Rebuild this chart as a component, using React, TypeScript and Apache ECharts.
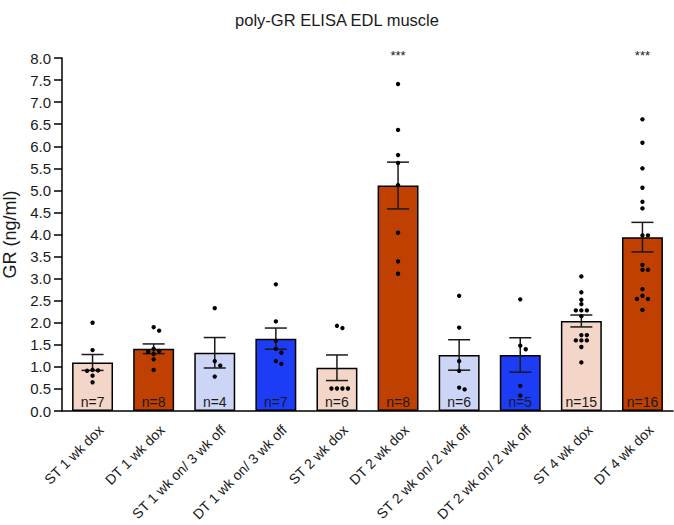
import React, { useEffect, useRef } from "react";
import * as echarts from "echarts";

const categories = [
  "ST 1 wk dox",
  "DT 1 wk dox",
  "ST 1 wk on/ 3 wk off",
  "DT 1 wk on/ 3 wk off",
  "ST 2 wk dox",
  "DT 2 wk dox",
  "ST 2 wk on/ 2 wk off",
  "DT 2 wk on/ 2 wk off",
  "ST 4 wk dox",
  "DT 4 wk dox",
];
const means = [1.1, 1.41, 1.32, 1.64, 0.98, 5.11, 1.27, 1.27, 2.04, 3.94];
const sems = [0.18, 0.11, 0.345, 0.24, 0.29, 0.53, 0.345, 0.39, 0.135, 0.335];
const counts = [7, 8, 4, 7, 6, 8, 6, 5, 15, 16];
const significance = ["", "", "", "", "", "***", "", "", "", "***"];
const starLevel = 8.06;

const pts0 = [2.0, 1.38, 0.93, 0.92, 0.91, 0.8, 0.65];
const pts1 = [1.9, 1.82, 1.41, 1.36, 1.34, 1.29, 1.17, 0.93];
const pts2 = [2.33, 1.13, 1.03, 0.78];
const pts3 = [2.87, 2.03, 1.59, 1.41, 1.32, 1.13, 1.07];
const pts4 = [1.93, 1.88, 0.51, 0.51, 0.51, 0.51];
const pts5 = [7.41, 6.37, 5.8, 5.62, 5.12, 4.04, 3.39, 3.11];
const pts6 = [2.61, 1.89, 1.13, 0.91, 0.53, 0.49];
const pts7 = [2.53, 1.48, 1.4, 0.57, 0.35];
const pts8 = [3.05, 2.69, 2.52, 2.42, 2.28, 2.28, 2.28, 2.15, 1.72, 1.72, 1.6, 1.6, 1.6, 1.45, 1.1];
const pts9 = [6.61, 6.08, 5.5, 5.06, 4.74, 4.59, 3.98, 3.98, 3.31, 3.2, 3.2, 2.76, 2.61, 2.54, 2.54, 2.29];
const points = [pts0, pts1, pts2, pts3, pts4, pts5, pts6, pts7, pts8, pts9];

const PINK = "#f3d6c8";
const ORANGE = "#bf4000";
const LAVENDER = "#cdd5f7";
const BLUE = "#1c3cf6";
const barColors = [PINK, ORANGE, LAVENDER, BLUE, PINK, ORANGE, LAVENDER, BLUE, PINK, ORANGE];

const FONT = "'Liberation Sans', Arial, Helvetica, sans-serif";
const STEP = 5.5;

function swarm(vals: number[]): number[] {
  const placed: { v: number; o: number }[] = [];
  const cands = [0, 1, -1, 2, -2, 3, -3, 4, -4];
  return vals.map((v) => {
    let chosen = 0;
    for (const o of cands) {
      const clash = placed.some((p) => Math.abs(p.v - v) < 0.1 && Math.abs(p.o - o) < 0.9);
      if (!clash) {
        chosen = o;
        break;
      }
    }
    placed.push({ v, o: chosen });
    return chosen;
  });
}

export default function App() {
  const ref = useRef<HTMLDivElement>(null);
  useEffect(() => {
    if (!ref.current) return;
    const chart = echarts.init(ref.current, undefined, { renderer: "svg" });

    const pointData: number[][] = [];
    points.forEach((arr, i) => {
      const offs = swarm(arr);
      arr.forEach((v, k) => pointData.push([i, v, offs[k]]));
    });
    const errData = means.map((m, i) => [i, m - sems[i], m + sems[i]]);
    const starData = significance
      .map((s, i) => (s ? [i, starLevel, s] : null))
      .filter((d) => d !== null) as any[];

    chart.setOption({
      animation: false,
      title: {
        text: "poly-GR ELISA EDL muscle",
        left: "center",
        top: 6,
        textStyle: { fontFamily: FONT, fontSize: 16.5, fontWeight: "normal", color: "#1a1a1a" },
      },
      grid: { left: 62, right: 1, top: 58, bottom: 114, containLabel: false, outerBoundsMode: "none" },
      xAxis: {
        type: "category",
        data: categories,
        boundaryGap: true,
        axisLine: { lineStyle: { color: "#000", width: 1.5 } },
        axisTick: { alignWithLabel: true, length: 8, lineStyle: { color: "#000", width: 1.5 } },
        axisLabel: {
          rotate: 45,
          interval: 0,
          fontSize: 14,
          fontFamily: FONT,
          color: "#1a1a1a",
          margin: 8,
          verticalAlign: "top",
          padding: [5, 0, 0, 0],
        },
      },
      yAxis: {
        type: "value",
        min: 0,
        max: 8,
        interval: 0.5,
        name: "GR (ng/ml)",
        nameLocation: "middle",
        nameGap: 40,
        nameTextStyle: { fontSize: 18, fontFamily: FONT, color: "#1a1a1a" },
        axisLine: { show: true, lineStyle: { color: "#000", width: 1.5 } },
        axisTick: { show: true, length: 8, lineStyle: { color: "#000", width: 1.5 } },
        splitLine: { show: false },
        axisLabel: {
          fontSize: 15,
          fontFamily: FONT,
          color: "#1a1a1a",
          margin: 11,
          formatter: (v: number) => v.toFixed(1),
        },
      },
      series: [
        {
          type: "bar",
          barWidth: "67%",
          z: 2,
          data: means.map((m, i) => ({
            value: m,
            itemStyle: { color: barColors[i], borderColor: "#000", borderWidth: 1.5 },
          })),
          label: {
            show: true,
            position: "insideBottom",
            distance: 2,
            fontSize: 14,
            fontFamily: FONT,
            color: "#1a1a1a",
            formatter: (p: any) => "n=" + counts[p.dataIndex],
          },
        },
        {
          type: "custom",
          z: 3,
          data: errData,
          encode: { x: 0, y: [1, 2] },
          renderItem: (params: any, api: any) => {
            const i = api.value(0);
            const lo = api.coord([i, api.value(1)]);
            const hi = api.coord([i, api.value(2)]);
            const hw = 11;
            const style = { stroke: "#1a1a1a", lineWidth: 1.5 };
            return {
              type: "group",
              children: [
                { type: "line", shape: { x1: lo[0], y1: lo[1], x2: hi[0], y2: hi[1] }, style },
                { type: "line", shape: { x1: lo[0] - hw, y1: lo[1], x2: lo[0] + hw, y2: lo[1] }, style },
                { type: "line", shape: { x1: hi[0] - hw, y1: hi[1], x2: hi[0] + hw, y2: hi[1] }, style },
              ],
            };
          },
        },
        {
          type: "custom",
          z: 4,
          data: pointData,
          encode: { x: 0, y: 1 },
          renderItem: (params: any, api: any) => {
            const c = api.coord([api.value(0), api.value(1)]);
            return {
              type: "circle",
              shape: { cx: c[0] + api.value(2) * STEP, cy: c[1], r: 2.2 },
              style: { fill: "#000" },
            };
          },
        },
        {
          type: "custom",
          z: 5,
          clip: false,
          data: starData,
          encode: { x: 0, y: 1 },
          renderItem: (params: any, api: any) => {
            const c = api.coord([api.value(0), api.value(1)]);
            return {
              type: "text",
              x: c[0],
              y: c[1],
              style: {
                text: starData[params.dataIndex][2],
                fontSize: 13,
                fontFamily: FONT,
                fill: "#1a1a1a",
                align: "center",
                verticalAlign: "middle",
              },
            };
          },
        },
      ],
    });
    return () => chart.dispose();
  }, []);
  return (
    <div
      ref={ref}
      style={{ position: "fixed", left: 0, top: 0, width: 674, height: 525, background: "#fff" }}
    />
  );
}
